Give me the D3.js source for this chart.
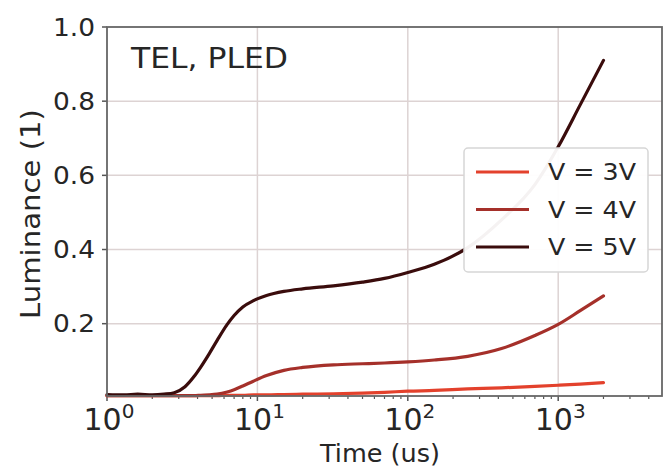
<!DOCTYPE html>
<html><head><meta charset="utf-8">
<script src="https://cdn.jsdelivr.net/npm/d3@7"></script>
<style>body{margin:0;background:#fff}svg text{font-family:"DejaVu Sans",sans-serif;fill:#262626}</style>
</head><body><svg id="c" width="670" height="468"></svg>
<script>
const times = [1,1.3,1.6,2,2.4,2.8,3.3,3.8,4.2,4.8,5.4,6.3,7,8,9.4,11.5,15,20,32,50,70,100,150,250,420,700,1000,1400,2000];
const lumV3 = [0.006,0.006,0.006,0.006,0.006,0.006,0.006,0.006,0.006,0.006,0.006,0.007,0.007,0.007,0.008,0.008,0.009,0.010,0.011,0.013,0.015,0.018,0.020,0.024,0.027,0.031,0.034,0.037,0.041];
const lumV4 = [0.006,0.006,0.006,0.006,0.006,0.006,0.006,0.006,0.007,0.008,0.010,0.016,0.022,0.032,0.045,0.060,0.074,0.082,0.089,0.092,0.094,0.097,0.102,0.112,0.133,0.168,0.198,0.235,0.275];
const lumV5 = [0.009,0.008,0.010,0.008,0.010,0.014,0.030,0.058,0.083,0.120,0.155,0.198,0.222,0.245,0.262,0.276,0.287,0.294,0.302,0.312,0.322,0.338,0.360,0.405,0.480,0.575,0.677,0.790,0.910];
const seriesNames = ["V = 3V","V = 4V","V = 5V"];
const seriesColors = ["#e3412c","#a5302a","#3a0c0c"];
const yTicks = [0.2,0.4,0.6,0.8,1.0];
const xTicks = [1,10,100,1000];
const xTickExp = ["0","1","2","3"];

const svg = d3.select("#c");
const L = 107, R = 662, T = 27, B = 396;
const x = d3.scaleLog().domain([1, 4900]).range([L, R]);
const y = d3.scaleLinear().domain([0.005, 1.0]).range([B, T]);

// grid
const g = svg.append("g");
g.selectAll(".gx").data(xTicks.slice(1)).enter().append("line")
  .attr("x1", d=>x(d)).attr("x2", d=>x(d)).attr("y1", T).attr("y2", B)
  .attr("stroke", "#ddd3d3").attr("stroke-width", 1.5);
g.selectAll(".gy").data(yTicks.slice(0,4)).enter().append("line")
  .attr("y1", d=>y(d)).attr("y2", d=>y(d)).attr("x1", L).attr("x2", R)
  .attr("stroke", "#ddd3d3").attr("stroke-width", 1.5);

// minor x ticks
const minor = [];
for (let e = 0; e < 4; e++) for (let k = 2; k < 10; k++) { const v = k * Math.pow(10, e); if (v < 4900) minor.push(v); }
svg.selectAll(".mx").data(minor).enter().append("line")
  .attr("x1", d=>x(d)).attr("x2", d=>x(d)).attr("y1", B).attr("y2", B+3)
  .attr("stroke", "#555").attr("stroke-width", 1.2);
svg.selectAll(".Mx").data(xTicks).enter().append("line")
  .attr("x1", d=>x(d)).attr("x2", d=>x(d)).attr("y1", B).attr("y2", B+5)
  .attr("stroke", "#555").attr("stroke-width", 1.5);
svg.selectAll(".My").data(yTicks).enter().append("line")
  .attr("y1", d=>y(d)).attr("y2", d=>y(d)).attr("x1", L-5).attr("x2", L)
  .attr("stroke", "#555").attr("stroke-width", 1.5);

// lines
const lums = [lumV3, lumV4, lumV5];
const line = d3.line().x(d=>x(d[0])).y(d=>y(d[1])).curve(d3.curveMonotoneX);
lums.forEach((arr, i) => {
  svg.append("path").datum(times.map((t, j) => [t, arr[j]]))
    .attr("d", line).attr("fill", "none").attr("stroke", seriesColors[i])
    .attr("stroke-width", 3.2).attr("stroke-linecap", "round");
});

// spines
svg.append("rect").attr("x", L).attr("y", T).attr("width", R-L).attr("height", B-T)
  .attr("fill", "none").attr("stroke", "#666").attr("stroke-width", 1.8);

// y tick labels
svg.selectAll(".yl").data(yTicks).enter().append("text")
  .attr("x", 95).attr("y", d=>y(d)).attr("dy", "0.36em").attr("text-anchor", "end")
  .attr("font-size", 24).attr("textLength", 42).attr("lengthAdjust", "spacingAndGlyphs")
  .text(d=>d.toFixed(1));

// x tick labels
xTicks.forEach((v, i) => {
  const t = svg.append("text").attr("x", x(v) + 2).attr("y", 430).attr("text-anchor", "middle").attr("font-size", 30);
  t.append("tspan").text("10");
  t.append("tspan").attr("font-size", 20).attr("dy", -12).text(xTickExp[i]);
});

// axis labels
svg.append("text").attr("x", 380).attr("y", 462).attr("text-anchor", "middle")
  .attr("font-size", 25).attr("textLength", 120).attr("lengthAdjust", "spacingAndGlyphs").text("Time (us)");
svg.append("text").attr("transform", "translate(40,214) rotate(-90)").attr("text-anchor", "middle")
  .attr("font-size", 27).attr("textLength", 210).attr("lengthAdjust", "spacingAndGlyphs").text("Luminance (1)");

// annotation
svg.append("text").attr("x", 131).attr("y", 68).attr("font-size", 29)
  .attr("textLength", 157).attr("lengthAdjust", "spacingAndGlyphs").text("TEL, PLED");

// legend
const lg = svg.append("g");
lg.append("rect").attr("x", 464).attr("y", 148).attr("width", 184).attr("height", 124).attr("rx", 4)
  .attr("fill", "#fff").attr("fill-opacity", 0.95).attr("stroke", "#d6d6d6").attr("stroke-width", 1.5);
seriesNames.forEach((n, i) => {
  const yy = 172 + i * 37.5;
  lg.append("line").attr("x1", 476).attr("x2", 529).attr("y1", yy).attr("y2", yy)
    .attr("stroke", seriesColors[i]).attr("stroke-width", 3.2);
  lg.append("text").attr("x", 548).attr("y", yy).attr("dy", "0.36em").attr("font-size", 23)
    .attr("textLength", 88).attr("lengthAdjust", "spacingAndGlyphs").text(n);
});
</script></body></html>
